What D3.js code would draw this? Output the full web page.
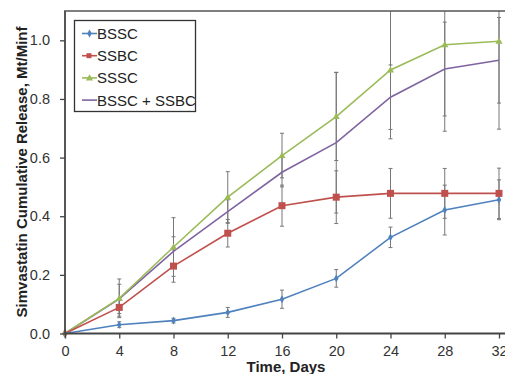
<html>
<style>
    body { margin: 0; background: #fff; }
    svg { font-family: "Liberation Sans", Arial, sans-serif; }
</style>
<svg width="505" height="374"></svg>
<script src="https://d3js.org/d3.v7.min.js"></script>
<script>
// data
var days = [0, 4, 8, 12, 16, 20, 24, 28, 32];
var bssc = [0, 0.030, 0.044, 0.072, 0.117, 0.188, 0.328, 0.421, 0.456];
var bsscErr = [0, 0.010, 0.008, 0.017, 0.031, 0.030, 0.035, 0.085, 0.068];
var ssbc = [0, 0.089, 0.230, 0.342, 0.436, 0.465, 0.478, 0.478, 0.478];
var ssbcErr = [0, 0.030, 0.055, 0.047, 0.070, 0.090, 0.085, 0.085, 0.086];
var sssc = [0, 0.120, 0.295, 0.465, 0.607, 0.740, 0.899, 0.985, 0.997];
var ssscErr = [0, 0.066, 0.100, 0.087, 0.076, 0.150, 0.235, 0.295, 0.300];
var mix = [0, 0.118, 0.280, 0.416, 0.550, 0.651, 0.806, 0.902, 0.932];
var mixErr = [0, 0.050, 0.050, 0.040, 0.050, 0.240, 0.110, 0.160, 0.146];
var yTicks = [0, 0.2, 0.4, 0.6, 0.8, 1.0];

var series = [
    { name: "BSSC", values: bssc, err: bsscErr, color: "#4f81bd", marker: "diamond" },
    { name: "SSBC", values: ssbc, err: ssbcErr, color: "#c0504d", marker: "square" },
    { name: "SSSC", values: sssc, err: ssscErr, color: "#9bbb59", marker: "triangle" },
    { name: "BSSC + SSBC", values: mix, err: mixErr, color: "#8064a2", marker: "none" }
];

var svg = d3.select("svg");
var x = d3.scaleLinear().domain([0, 32]).range([65, 499]);
var y = d3.scaleLinear().domain([0, 1.1]).range([333.5, 11]);

var defs = svg.append("defs");
defs.append("clipPath").attr("id", "plot")
    .append("rect").attr("x", 60).attr("y", 11).attr("width", 450).attr("height", 330);

// error bars
var eb = svg.append("g").attr("clip-path", "url(#plot)");
series.forEach(function(s) {
    days.forEach(function(d, i) {
        if (!s.err[i]) return;
        var cx = x(d), lo = y(s.values[i] - s.err[i]), hi = y(s.values[i] + s.err[i]);
        eb.append("line").attr("x1", cx).attr("x2", cx).attr("y1", lo).attr("y2", hi)
            .attr("stroke", "#777").attr("stroke-width", 1);
        [lo, hi].forEach(function(yy) {
            eb.append("line").attr("x1", cx - 2).attr("x2", cx + 2).attr("y1", yy).attr("y2", yy)
                .attr("stroke", "#777").attr("stroke-width", 1);
        });
    });
});

// lines
var line = d3.line().x(function(d, i) { return x(days[i]); }).y(function(d) { return y(d); });
var lines = svg.append("g").attr("clip-path", "url(#plot)");
series.slice().reverse().forEach(function(s) {
    lines.append("path").attr("d", line(s.values))
        .attr("fill", "none").attr("stroke", s.color).attr("stroke-width", 1.6);
});

function drawMarker(g, type, cx, cy, color) {
    if (type == "square") {
        g.append("rect").attr("x", cx - 3.5).attr("y", cy - 3.5).attr("width", 7).attr("height", 7).attr("fill", color);
    } else if (type == "diamond") {
        g.append("path").attr("d", d3.symbol(d3.symbolDiamond, 18)()).attr("transform", "translate(" + cx + "," + cy + ")").attr("fill", color);
    } else if (type == "triangle") {
        g.append("path").attr("d", d3.symbol(d3.symbolTriangle, 22)()).attr("transform", "translate(" + cx + "," + (cy + 0.5) + ")").attr("fill", color);
    }
}

var marks = svg.append("g");
series.forEach(function(s) {
    s.values.forEach(function(v, i) {
        if (i == 0) return;
        drawMarker(marks, s.marker, x(days[i]), y(v), s.color);
    });
});
// overlapping origin point
marks.append("path").attr("d", d3.symbol(d3.symbolDiamond, 30)())
    .attr("transform", "translate(" + x(0) + "," + y(0) + ")").attr("fill", "#a08a6a");

// axes
var xAxis = svg.append("g").attr("transform", "translate(0," + y(0) + ")")
    .call(d3.axisBottom(x).tickValues(days).tickSize(5).tickSizeOuter(0).tickPadding(7));
var yAxis = svg.append("g").attr("transform", "translate(" + x(0) + ",0)")
    .call(d3.axisLeft(y).tickValues(yTicks).tickFormat(d3.format(".1f")).tickSize(5).tickSizeOuter(0).tickPadding(10));
[xAxis, yAxis].forEach(function(a) {
    a.select(".domain").attr("stroke", "#444").attr("stroke-width", 1.8);
    a.selectAll(".tick line").attr("stroke", "#444").attr("stroke-width", 1.3);
    a.selectAll("text").attr("font-size", 14.5).attr("fill", "#333")
        .attr("font-family", "'Liberation Sans', Arial, sans-serif");
});
xAxis.select(".domain").attr("d", "M65,0H505");
yAxis.select(".domain").attr("d", "M0,11V" + y(0));
// top frame
svg.append("line").attr("x1", 64).attr("x2", 505).attr("y1", 11).attr("y2", 11)
    .attr("stroke", "#555").attr("stroke-width", 1.5);

// titles
svg.append("text").attr("x", 286).attr("y", 372).attr("text-anchor", "middle")
    .attr("font-size", 15).attr("font-weight", "bold").attr("fill", "#222").text("Time, Days");
svg.append("text").attr("transform", "translate(27,172) rotate(-90)").attr("text-anchor", "middle")
    .attr("font-size", 15).attr("font-weight", "bold").attr("fill", "#222")
    .text("Simvastatin Cumulative Release, Mt/Minf");

// legend
var lg = svg.append("g");
lg.append("rect").attr("x", 74.5).attr("y", 20.5).attr("width", 121).attr("height", 91)
    .attr("fill", "#fff").attr("stroke", "#333").attr("stroke-width", 1.3);
series.forEach(function(s, i) {
    var ly = 33.5 + i * 22.2;
    lg.append("line").attr("x1", 82).attr("x2", 97).attr("y1", ly).attr("y2", ly)
        .attr("stroke", s.color).attr("stroke-width", 1.6);
    if (s.marker == "square") {
        lg.append("rect").attr("x", 86.5).attr("y", ly - 2.5).attr("width", 5).attr("height", 5).attr("fill", s.color);
    } else {
        drawMarker(lg, s.marker, 89.5, ly, s.color);
    }
    lg.append("text").attr("x", 97).attr("y", ly + 5.5).attr("font-size", 15).attr("fill", "#222").text(s.name);
});
</script>
</html>
